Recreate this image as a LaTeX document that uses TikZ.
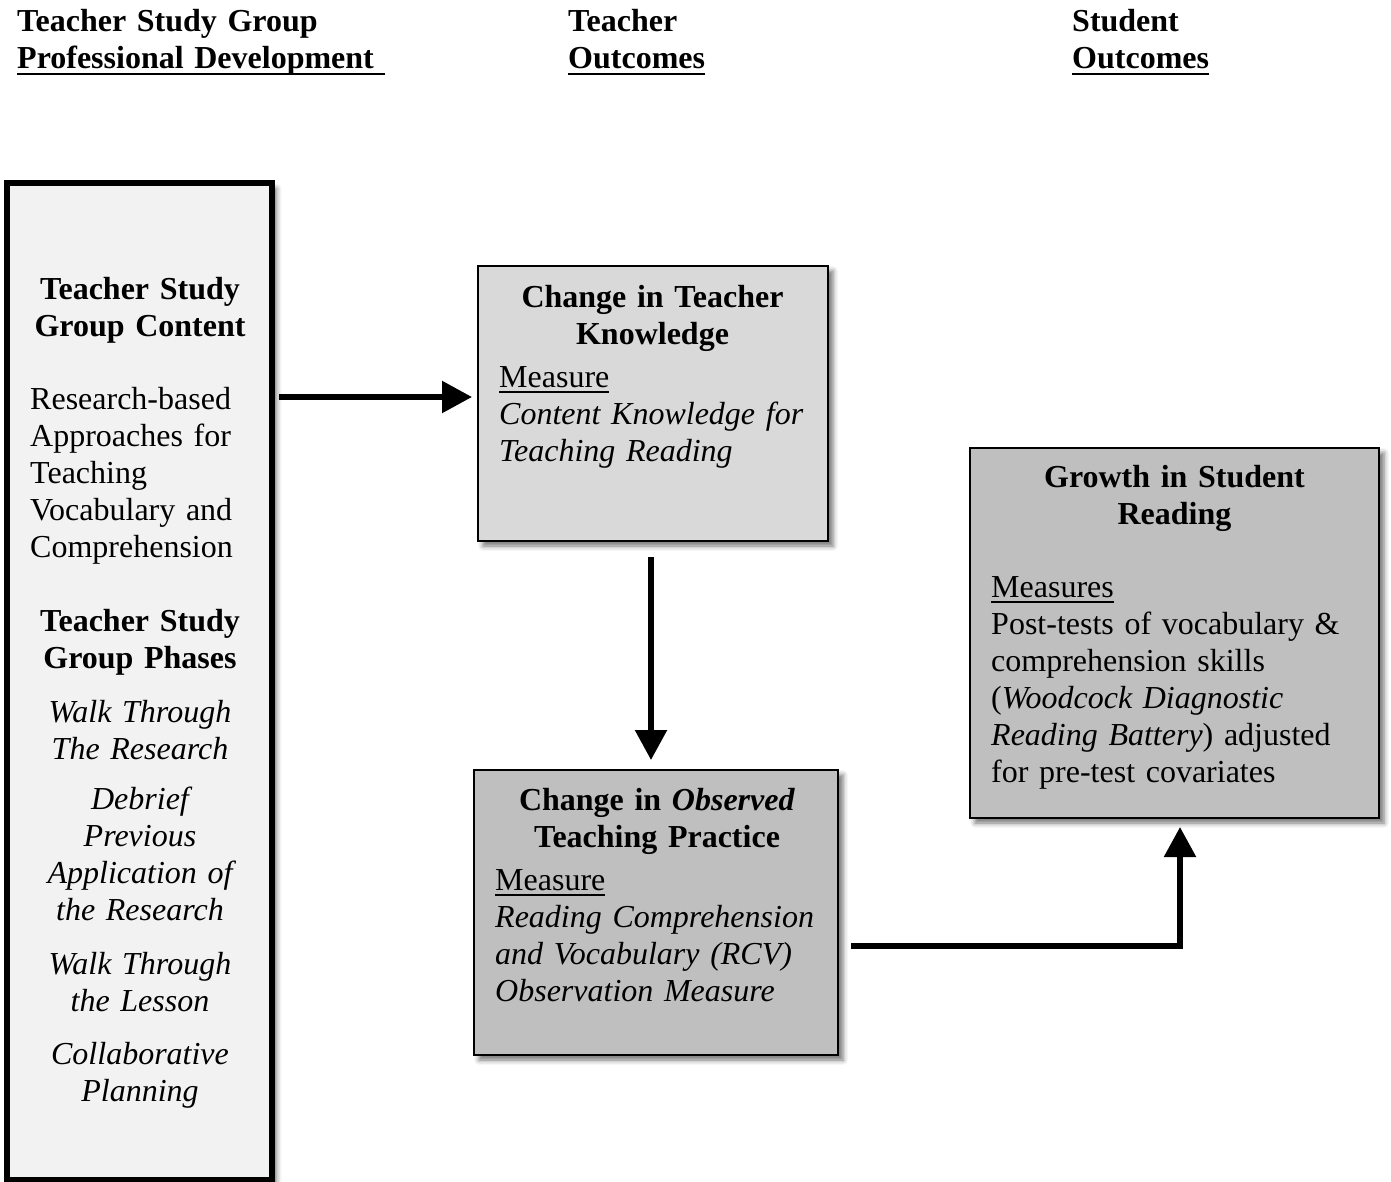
\documentclass[tikz,border=0pt]{standalone}
\usepackage{fontspec}
\setmainfont{Liberation Serif}
\usetikzlibrary{arrows.meta,shadows.blur}
\definecolor{pdfill}{gray}{0.95}
\definecolor{knowfill}{gray}{0.85}
\definecolor{outfill}{gray}{0.75}
\newsavebox{\undlbox}
\newcommand{\undl}[1]{\leavevmode\sbox{\undlbox}{#1}\rlap{\rule[-6pt]{\wd\undlbox}{2.2pt}}\usebox{\undlbox}}
\tikzset{
  outbox/.style={draw=black, line width=2pt, inner sep=0pt,
    blur shadow={shadow xshift=5pt, shadow yshift=-5pt, shadow blur radius=5pt, shadow opacity=55}},
  ttl/.style={inner sep=0pt, font=\fontsize{32}{37}\selectfont\bfseries, text width=340pt, align=center, anchor=base},
  phase/.style={inner sep=0pt, font=\fontsize{32}{37}\selectfont\itshape, text width=250pt, align=center, anchor=base},
  body/.style={inner sep=0pt, font=\fontsize{32}{37}\selectfont, text width=390pt, align=left, anchor=base west},
  head/.style={body, font=\fontsize{32}{37}\selectfont\bfseries},
  flow/.style={line width=5.5pt, -{Triangle[length=30pt,width=31pt]}}
}
\begin{document}
\begin{tikzpicture}[x=1pt,y=-1pt]
    \useasboundingbox (0,0) rectangle (1391,1182);
    % column heads
    \node[head] (hpd) at (17,32) {Teacher Study Group\\\undl{Professional Development\ }};
    \node[head] (hto) at (568,32) {Teacher\\\undl{Outcomes}};
    \node[head] (hso) at (1072,32) {Student\\\undl{Outcomes}};

    % boxes
    \node[outbox, line width=6pt, fill=pdfill, minimum width=264.5pt, minimum height=996.5pt] (pd) at (139.25,681.75) {};
    \node[outbox, fill=knowfill, minimum width=350pt, minimum height=275pt] (ck) at (653,403.5) {};
    \node[outbox, fill=outfill, minimum width=364pt, minimum height=285pt] (cp) at (656,912.5) {};
    \node[outbox, fill=outfill, minimum width=409pt, minimum height=370pt] (gr) at (1174.5,633) {};

    % professional development
    \node[ttl] (pdtitle) at (140,299) {Teacher Study\\Group Content};
    \node[body] (pdcontent) at (30,409) {Research-based\\Approaches for\\Teaching\\Vocabulary and\\Comprehension};
    \node[ttl] (pdphases) at (140,631) {Teacher Study\\Group Phases};
    \node[phase] (ph1) at (140,722) {Walk Through\\The Research};
    \node[phase] (ph2) at (140,809) {Debrief\\Previous\\Application of\\the Research};
    \node[phase] (ph3) at (140,974) {Walk Through\\the Lesson};
    \node[phase] (ph4) at (140,1064) {Collaborative\\Planning};

    % teacher outcomes
    \node[ttl] (cktitle) at (652.5,307) {Change in Teacher\\Knowledge};
    \node[body] (ckmeasure) at (499,387) {\undl{Measure}\\\textit{Content Knowledge for}\\\textit{Teaching Reading}};
    \node[ttl] (cptitle) at (657,810) {Change in \textit{Observed}\\Teaching Practice};
    \node[body] (cpmeasure) at (495,890) {\undl{Measure}\\\textit{Reading Comprehension}\\\textit{and Vocabulary (RCV)}\\\textit{Observation Measure}};

    % student outcomes
    \node[ttl] (grtitle) at (1174.5,487) {Growth in Student\\Reading};
    \node[body] (grmeasure) at (991,597) {\undl{Measures}\\Post-tests of vocabulary \&\\comprehension skills\\(\textit{Woodcock Diagnostic}\\\textit{Reading Battery}) adjusted\\for pre-test covariates};

    % arrows
    \coordinate (a1) at ([yshift=6.5pt]ck.west);
    \draw[flow, shorten <=4.5pt, shorten >=5pt] (pd.east |- a1) -- (a1);
    \coordinate (a2) at ([xshift=-2pt]ck.south);
    \draw[flow, shorten <=15pt, shorten >=9pt] (a2) -- (a2 |- cp.north);
    \coordinate (a3) at ([yshift=-33.5pt]cp.east);
    \coordinate (a4) at ([xshift=5.5pt]gr.south);
    \draw[flow, shorten <=12pt, shorten >=8pt] (a3) -| (a4);
\end{tikzpicture}
\end{document}
